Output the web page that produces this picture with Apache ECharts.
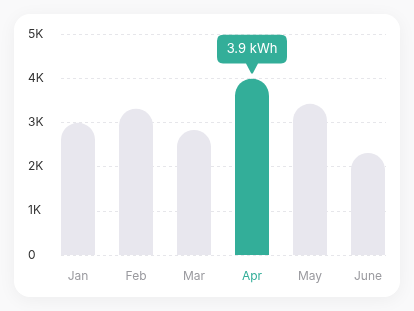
<!DOCTYPE html>
<html><head><meta charset="utf-8">
<script src="https://cdn.jsdelivr.net/npm/echarts@6/dist/echarts.min.js"></script>
<style>html,body{margin:0;padding:0;background:#f9f9fa;}#c{width:414px;height:311px;}</style>
</head><body><div id="c"></div>
<script>
var categories = ['Jan', 'Feb', 'Mar', 'Apr', 'May', 'June'];
var energy = [2990, 3310, 2830, 3990, 3420, 2310];
var highlightIndex = 3;
var highlightLabel = '3.9 kWh';
var yTicks = [0, 1000, 2000, 3000, 4000, 5000];

var teal = '#33ae99';
var grey = '#e8e7ee';
var chart = echarts.init(document.getElementById('c'), null, {renderer: 'canvas'});
var fontFam = 'Inter, "Noto Sans", sans-serif';

chart.setOption({
  animation: false,
  graphic: [{
    type: 'rect', z: -10, silent: true,
    shape: {x: 14, y: 14, width: 386, height: 283, r: 16},
    style: {fill: '#ffffff', shadowBlur: 18, shadowColor: 'rgba(0,0,0,0.05)', shadowOffsetY: 3}
  }],
  grid: [
    {left: 49, right: 17, top: 34, bottom: 56},
    {left: 61, right: 28, top: 34, bottom: 56}
  ],
  xAxis: [
    {gridIndex: 0, type: 'category', data: categories.map(function (c, i) {
      return i === highlightIndex ? {value: c, textStyle: {color: teal}} : c;
    }),
      axisLine: {show: false}, axisTick: {show: false},
      axisLabel: {color: '#9a9a9f', fontSize: 12, fontFamily: fontFam, margin: 15}
    },
    {gridIndex: 1, type: 'category', data: categories, show: false}
  ],
  yAxis: [
    {gridIndex: 0, type: 'value', min: yTicks[0], max: yTicks[yTicks.length - 1], interval: 1000, show: false},
    {gridIndex: 1, type: 'value', min: yTicks[0], max: yTicks[yTicks.length - 1], interval: 1000,
      axisLine: {show: false}, axisTick: {show: false},
      axisLabel: {color: '#333', fontSize: 12, fontFamily: fontFam, align: 'left', margin: 33,
        formatter: function (v) { return v === 0 ? '0' : (v / 1000) + 'K'; }},
      splitLine: {lineStyle: {color: '#e6e6ea', type: [3, 3], width: 1}}
    }
  ],
  series: [{
    type: 'bar', xAxisIndex: 0, yAxisIndex: 0,
    barWidth: 34,
    data: energy.map(function (v, i) {
      return {value: v, itemStyle: {color: i === highlightIndex ? teal : grey, borderRadius: [17, 17, 0, 0]}};
    }),
    markPoint: {
      silent: true,
      symbol: 'path://M6,0 H64 Q70,0 70,6 V21 Q70,27 64,27 H41 L36,36 Q35,37 34,36 L29,27 H6 Q0,27 0,21 V6 Q0,0 6,0 Z',
      symbolSize: [70, 39],
      symbolOffset: [0, -24.5],
      itemStyle: {color: teal},
      label: {show: true, position: 'inside', offset: [0, -5], color: '#fff', fontSize: 13, fontFamily: fontFam,
        formatter: function () { return highlightLabel; }},
      data: [{coord: [highlightIndex, energy[highlightIndex]]}]
    }
  }]
});
</script></body></html>
